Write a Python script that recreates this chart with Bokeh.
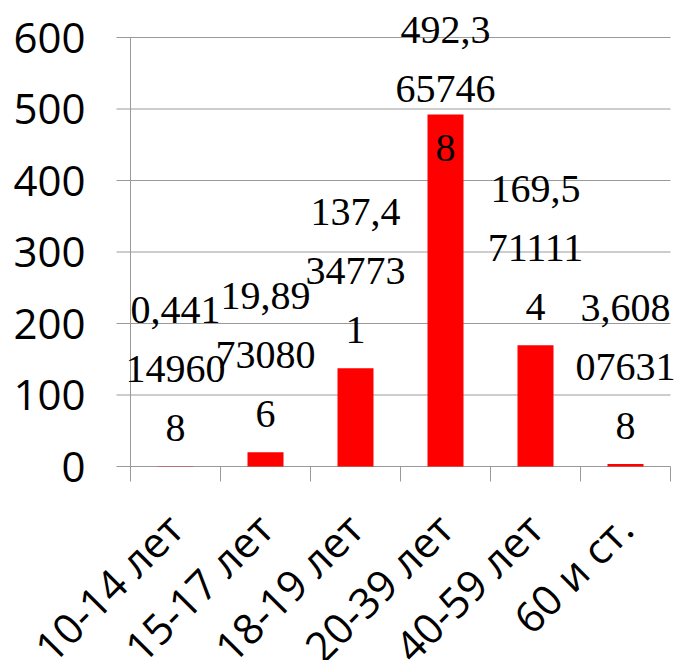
import math
from bokeh.plotting import figure
from bokeh.models import ColumnDataSource, FixedTicker, LabelSet, Range1d
from bokeh.core.properties import value
from bokeh.embed import file_html
from bokeh.resources import INLINE

categories = ["10-14 лет", "15-17 лет", "18-19 лет", "20-39 лет", "40-59 лет", "60 и ст."]
values = [0.441149608, 19.89730806, 137.4347731, 492.3657468, 169.5711114, 3.608076318]
y_ticks = [0, 100, 200, 300, 400, 500, 600]
label_cap = 393  # a label that would leave the chart is pushed down, as in the original


def wrap(v):
    s = repr(v).replace(".", ",")
    return [s[i:i + 5] for i in range(0, len(s), 5)]


n = len(categories)
xs = [i + 0.5 for i in range(n)]
bounds = list(range(n + 1))
lines = [wrap(v) for v in values]
nlines = max(len(l) for l in lines)
src = ColumnDataSource(dict(
    x=xs,
    top=values,
    ly=[min(v, label_cap) for v in values],
    cat=categories,
    **{f"t{k}": [l[k] if k < len(l) else "" for l in lines] for k in range(nlines)},
))

FONT = "Open Sans"
GRAY = "#9a9a9a"

# layout constants (pixels)
W, H = 690, 660
CAT_PX = 90              # width of one category
AXIS_X = 130             # pixel of the category axis start
FRAME_L = 14             # left edge of the frame
ZERO_Y = 466             # pixel row of value 0
PX_PER_UNIT = (466 - 37) / 600
TICK_OUT = 14            # grid lines stick out left of the value axis
CAT_TICK = 15            # category tick marks below the axis
LINE_PX = 59             # line spacing of the data labels

p = figure(width=W, height=H, output_backend="svg", toolbar_location=None,
           x_range=Range1d(-(AXIS_X - FRAME_L) / CAT_PX, (W - AXIS_X) / CAT_PX),
           y_range=Range1d(-(H - ZERO_Y) / PX_PER_UNIT, ZERO_Y / PX_PER_UNIT),
           x_axis_location=None,
           min_border_left=FRAME_L, min_border_right=0, min_border_top=0,
           min_border_bottom=0)
p.outline_line_color = None
p.grid.visible = False

# horizontal grid lines (sticking out left of the axis like tick marks)
p.segment(x0=-TICK_OUT / CAT_PX, x1=n, y0=y_ticks, y1=y_ticks,
          line_color=GRAY, line_width=1)
# value-axis line
p.segment(x0=[0], x1=[0], y0=[y_ticks[0]], y1=[y_ticks[-1]],
          line_color=GRAY, line_width=1)
# category tick marks between categories
p.segment(x0=bounds, x1=bounds, y0=0, y1=-CAT_TICK / PX_PER_UNIT,
          line_color=GRAY, line_width=1)

p.vbar(x="x", top="top", bottom=0, width=0.4, source=src,
       fill_color="#ff0000", line_color=None)

for k in range(nlines):
    p.add_layout(LabelSet(
        x="x", y="ly", text=f"t{k}", source=src,
        text_align="center", text_baseline="bottom",
        y_offset=25 + (nlines - 1 - k) * LINE_PX,
        text_font=FONT, text_font_size="40px", text_color="black"))

# category labels, rotated, below the axis
p.text(x="x", y=0, text="cat", source=src, angle=math.pi / 4,
       text_align="right", text_baseline="alphabetic", x_offset=-1, y_offset=54,
       text_font=value(FONT), text_font_size="42px", text_color="black")

# value axis: labels only (drawn to the left of the grid lines)
p.yaxis.ticker = FixedTicker(ticks=y_ticks)
p.yaxis.axis_line_color = None
p.yaxis.major_tick_line_color = None
p.yaxis.minor_tick_line_color = None
p.yaxis.major_tick_out = 0
p.yaxis.major_tick_in = 0
p.yaxis.major_label_standoff = -71
p.yaxis.major_label_text_font = FONT
p.yaxis.major_label_text_font_size = "42px"
p.yaxis.major_label_text_color = "black"

open("out.html", "w").write(file_html(p, INLINE))
